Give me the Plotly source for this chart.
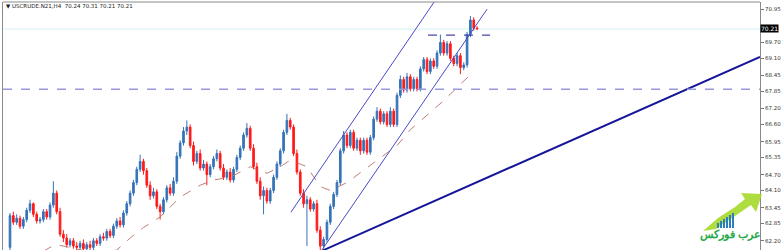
import plotly.graph_objects as go

# ---------------- data ----------------
opens = [61.95, 63.15, 62.9, 63.05, 62.75, 63.0, 63.35, 63.6, 63.2, 62.95,
         63.0, 63.3, 63.1, 63.55, 64.0, 63.3, 62.45, 62.3, 62.05, 62.2,
         62.0, 61.95, 62.1, 61.9, 62.05, 61.95, 62.2, 62.1, 62.35, 62.3,
         62.55, 62.4, 62.75, 62.95, 62.8, 63.25, 63.6, 64.0, 64.4, 64.9,
         65.2, 64.85, 64.3, 63.9, 64.05, 63.5, 63.3, 63.75, 64.2, 64.0,
         64.45, 65.4, 65.9, 66.35, 66.5, 65.8, 65.2, 65.5, 64.95, 65.1,
         64.7, 65.0, 65.3, 65.5, 64.95, 64.6, 64.8, 64.5, 64.9, 65.35,
         65.7, 66.2, 66.45, 65.7, 65.0, 64.45, 63.9, 64.1, 63.7, 64.1,
         64.6, 65.1, 65.6, 66.3, 66.75, 66.5, 65.5, 64.8, 64.0, 63.6,
         63.75, 63.4, 63.6, 62.6, 62.0, 62.25, 62.9, 63.5, 63.95, 64.4,
         65.6, 66.2, 65.8, 66.3, 65.7, 66.0, 65.6, 66.0, 65.55, 66.1,
         66.8, 67.1, 66.7, 67.0, 66.6, 67.1, 66.6, 67.7, 68.3, 67.9,
         68.4, 67.95, 68.3, 67.95, 68.7, 69.05, 68.6, 69.0, 68.8, 69.3,
         69.7, 69.3, 69.65, 69.1, 68.9, 69.2, 68.75, 68.85, 70.0, 70.55, 70.24]
highs = [63.25, 63.3, 63.2, 63.15, 63.1, 63.45, 63.75, 63.65, 63.3, 63.1,
         63.4, 63.4, 63.65, 64.45, 64.1, 63.45, 62.6, 62.45, 62.3, 62.3,
         62.15, 62.2, 62.25, 62.15, 62.2, 62.3, 62.3, 62.45, 62.5, 62.65,
         62.65, 62.85, 63.05, 63.1, 63.35, 63.7, 64.1, 64.5, 65.0, 65.45,
         65.3, 64.95, 64.45, 64.2, 64.15, 63.6, 63.85, 64.3, 64.35, 64.6,
         65.55, 66.0, 66.5, 66.75, 66.6, 65.95, 65.6, 65.65, 65.25, 65.2,
         65.1, 65.4, 65.65, 65.6, 65.1, 64.9, 64.95, 65.0, 65.45, 65.8,
         66.3, 66.65, 66.55, 65.85, 65.15, 64.6, 64.25, 64.2, 64.2, 64.7,
         65.2, 65.7, 66.4, 67.0, 66.85, 66.6, 65.65, 64.9, 64.15, 63.9,
         63.85, 63.7, 63.75, 62.75, 62.35, 63.0, 63.6, 64.05, 64.5, 65.7,
         66.35, 66.3, 66.4, 66.4, 66.1, 66.1, 66.1, 66.1, 66.2, 66.9,
         67.25, 67.2, 67.1, 67.1, 67.25, 67.2, 67.8, 68.45, 68.4, 68.55,
         68.5, 68.4, 68.4, 68.8, 69.15, 69.15, 69.1, 69.1, 69.4, 70.0,
         69.8, 69.75, 69.75, 69.2, 69.3, 69.3, 68.95, 70.1, 70.7, 70.65, 70.31]
lows = [61.85, 62.8, 62.8, 62.65, 62.65, 62.9, 63.25, 63.1, 62.85, 62.85,
        62.9, 63.0, 63.0, 63.45, 63.2, 62.35, 62.15, 61.95, 61.95, 61.9,
        61.85, 61.85, 61.8, 61.8, 61.85, 61.85, 62.0, 62.0, 62.2, 62.2,
        62.3, 62.3, 62.65, 62.7, 62.7, 63.15, 63.5, 63.9, 64.3, 64.8,
        64.7, 64.2, 63.75, 63.8, 63.4, 63.0, 63.2, 63.65, 63.9, 63.9,
        64.35, 65.3, 65.8, 66.2, 65.7, 65.05, 65.1, 64.85, 64.85, 64.3,
        64.6, 64.9, 65.2, 64.85, 64.5, 64.5, 64.4, 64.4, 64.8, 65.25,
        65.6, 66.1, 65.6, 64.9, 64.35, 63.75, 63.2, 63.6, 63.6, 64.0,
        64.5, 65.0, 65.5, 66.2, 66.4, 65.4, 64.7, 63.9, 63.45, 62.0,
        63.3, 63.3, 62.5, 61.8, 61.9, 62.15, 62.8, 63.4, 63.85, 64.3,
        65.5, 65.7, 65.7, 65.6, 65.6, 65.45, 65.5, 65.45, 65.45, 66.0,
        66.7, 66.6, 66.6, 66.5, 66.5, 66.5, 66.5, 67.6, 67.8, 67.8,
        67.85, 67.85, 67.85, 67.85, 68.6, 68.5, 68.5, 68.7, 68.7, 69.2,
        69.2, 69.2, 69.0, 68.8, 68.8, 68.5, 68.65, 68.75, 69.9, 70.15, 70.21]
closes = [63.15, 62.9, 63.05, 62.75, 63.0, 63.35, 63.6, 63.2, 62.95, 63.0,
          63.3, 63.1, 63.55, 64.0, 63.3, 62.45, 62.3, 62.05, 62.2, 62.0,
          61.95, 62.1, 61.9, 62.05, 61.95, 62.2, 62.1, 62.35, 62.3, 62.55,
          62.4, 62.75, 62.95, 62.8, 63.25, 63.6, 64.0, 64.4, 64.9, 65.2,
          64.85, 64.3, 63.9, 64.05, 63.5, 63.3, 63.75, 64.2, 64.0, 64.45,
          65.4, 65.9, 66.35, 66.5, 65.8, 65.2, 65.5, 64.95, 65.1, 64.7,
          65.0, 65.3, 65.5, 64.95, 64.6, 64.8, 64.5, 64.9, 65.35, 65.7,
          66.2, 66.45, 65.7, 65.0, 64.45, 63.9, 64.1, 63.7, 64.1, 64.6,
          65.1, 65.6, 66.3, 66.75, 66.5, 65.5, 64.8, 64.0, 63.6, 63.75,
          63.4, 63.6, 62.6, 62.0, 62.25, 62.9, 63.5, 63.95, 64.4, 65.6,
          66.2, 65.8, 66.3, 65.7, 66.0, 65.6, 66.0, 65.55, 66.1, 66.8,
          67.1, 66.7, 67.0, 66.6, 67.1, 66.6, 67.7, 68.3, 67.9, 68.4,
          67.95, 68.3, 67.95, 68.7, 69.05, 68.6, 69.0, 68.8, 69.3, 69.7,
          69.3, 69.65, 69.1, 68.9, 69.2, 68.75, 68.85, 70.0, 70.55, 70.24, 70.21]
bars = list(range(len(closes)))

# moving average (dashed) read at several bars
ma_bars = [10, 12, 14, 16, 21, 25, 30, 32, 36, 40, 45, 51, 57, 61, 66, 72, 77,
           81, 84, 89, 93, 96, 101, 108, 116, 120, 130, 134, 139]
ma_vals = [61.8, 61.95, 62.05, 62.0, 61.85, 61.75, 61.8, 61.85, 62.3, 62.7, 63.1,
           63.85, 64.3, 64.5, 64.6, 65.0, 64.75, 65.0, 65.25, 65.0, 64.25, 64.1,
           64.4, 65.05, 65.8, 66.4, 67.5, 68.0, 68.6]

# drawn objects (bar index, price)
chan_upper_bars, chan_upper_px = [84.2, 127.5], [63.28, 71.3]
chan_lower_bars, chan_lower_px = [93.5, 143.0], [61.85, 70.96]
trend_bars, trend_px = [93.5, 224.8], [61.82, 69.15]
short_bars, short_px = [125.3, 143.9], [69.98, 69.98]
support_level = 67.93
last_price = 70.21

# 70.35 sits under the current-price label, so its text is hidden
tick_vals = [70.95, 70.35, 69.70, 69.10, 68.45, 67.85, 67.20, 66.60, 65.95,
             65.35, 64.70, 64.10, 63.45, 62.85, 62.20]
tick_text = ["70.95", "", "69.70", "69.10", "68.45", "67.85", "67.20", "66.60",
             "65.95", "65.35", "64.70", "64.10", "63.45", "62.85", "62.20"]
header = "USCRUDE.N21,H4  70.24 70.31 70.21 70.21"

# ---------------- figure ----------------
W, H = 781, 250
ML, MR, MT, MB = 3, 21, 2, 0
PW, PH = W - ML - MR, H - MT - MB


def px(x):
    return (x - ML) / PW


def py(y):
    return 1 - (y - MT) / PH


fig = go.Figure()

fig.add_trace(go.Scatter(x=ma_bars, y=ma_vals, mode="lines",
                         line=dict(color="#b87068", width=0.9, dash="dash"),
                         hoverinfo="skip", showlegend=False))

fig.add_trace(go.Candlestick(
    x=bars, open=opens, high=highs, low=lows, close=closes,
    increasing=dict(line=dict(color="#3573b8", width=1), fillcolor="#3573b8"),
    decreasing=dict(line=dict(color="#ff1a1a", width=1), fillcolor="#ff1a1a"),
    whiskerwidth=0, showlegend=False, hoverinfo="skip"))

for bx, by, col, w, dash in [
        (chan_upper_bars, chan_upper_px, "#4a4ac8", 1, "solid"),
        (chan_lower_bars, chan_lower_px, "#4a4ac8", 1, "solid"),
        (trend_bars, trend_px, "#15159a", 2, "solid"),
        (short_bars, short_px, "#4848a8", 1.2, "dash")]:
    fig.add_trace(go.Scatter(x=bx, y=by, mode="lines",
                             line=dict(color=col, width=w, dash=dash),
                             hoverinfo="skip", showlegend=False, cliponaxis=True))

shapes = [
    dict(type="line", xref="paper", yref="y", x0=0, x1=1, y0=last_price, y1=last_price,
         line=dict(color="#d6eef6", width=1), layer="below"),
    dict(type="line", xref="paper", yref="y", x0=0, x1=1, y0=support_level, y1=support_level,
         line=dict(color="#9a98dc", width=1.5, dash="dash")),
    dict(type="line", xref="paper", yref="paper", x0=0, x1=1, y0=1, y1=1,
         line=dict(color="#8a8a8a", width=1)),
]

# logo (decoration at bottom right)
arrow_pts = [(703, 231), (718, 218), (735, 207), (745, 199), (741, 193), (762, 194),
             (756, 212), (751, 205), (738, 214), (716, 229)]
path = "M " + " L ".join(f"{px(x):.4f},{py(y):.4f}" for x, y in arrow_pts) + " Z"
shapes.append(dict(type="path", xref="paper", yref="paper", path=path,
                   fillcolor="#a6d92a", line=dict(width=0), opacity=0.9))
for k, top in enumerate([223, 221, 219, 217, 215, 213]):
    x0 = 717 + k * 3
    shapes.append(dict(type="rect", xref="paper", yref="paper",
                       x0=px(x0), x1=px(x0 + 2), y0=py(228), y1=py(top),
                       fillcolor="#2a7fc0", line=dict(width=0)))

annotations = [
    dict(xref="paper", yref="paper", x=px(4), y=py(6), xanchor="left", yanchor="middle",
         text="\u25bc " + header, showarrow=False,
         font=dict(family="DejaVu Sans", size=5.5, color="#222")),
    dict(xref="paper", yref="y", x=1, y=last_price, xanchor="left", yanchor="middle",
         text=f"{last_price:.2f}", showarrow=False, bgcolor="#000000", borderpad=0,
         font=dict(family="DejaVu Sans", size=6, color="#ffffff")),
    dict(xref="paper", yref="paper", x=px(730), y=py(233), xanchor="center", yanchor="middle",
         text="<b>عرب فوركس</b>", showarrow=False,
         font=dict(family="Noto Sans", size=11, color="#26a84a")),
]

fig.update_layout(
    width=W, height=H, margin=dict(l=ML, r=MR, t=MT, b=MB),
    paper_bgcolor="white", plot_bgcolor="white",
    shapes=shapes, annotations=annotations, showlegend=False,
    xaxis=dict(range=[-2.1, 224.8], showgrid=False, zeroline=False, showticklabels=False,
               rangeslider=dict(visible=False), fixedrange=True, showline=False),
    yaxis=dict(range=[61.85, 71.23], side="right", showgrid=False, zeroline=False,
               tickvals=tick_vals, ticktext=tick_text, ticks="outside", ticklen=3,
               tickcolor="#777", showline=True, mirror=True, linecolor="#8a8a8a", linewidth=1,
               tickfont=dict(family="DejaVu Sans", size=5.5, color="#333")),
)

fig.write_html("out.html")
